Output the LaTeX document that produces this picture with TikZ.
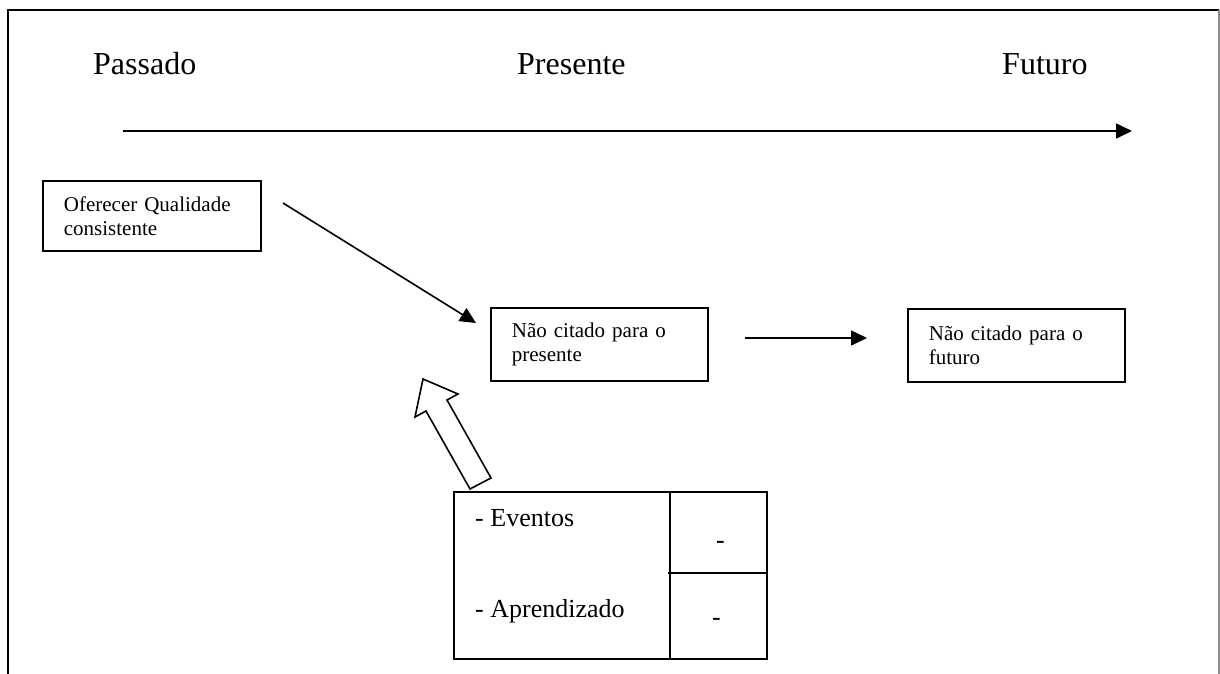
\documentclass[tikz,border=0pt]{standalone}
\usepackage{fontspec}
\setmainfont{Liberation Serif}
\usetikzlibrary{arrows.meta}
\tikzset{
  bigtxt/.style={font=\fontsize{32}{38}\selectfont, inner sep=0pt, anchor=base west},
  tabtxt/.style={font=\fontsize{26}{31}\selectfont, inner sep=0pt, anchor=base west},
  boxnode/.style={draw, line width=1.8pt, anchor=north west, align=left,
    font=\fontsize{21}{24}\selectfont, inner xsep=21pt, inner ysep=0pt},
  conn/.style={line width=1.6pt, -{Triangle[length=16pt,width=15pt]}},
  frame/.style={line width=2pt},
}
\begin{document}
\begin{tikzpicture}[x=1pt,y=-1pt]
\useasboundingbox (0,0) rectangle (1220,674);
% frame
\draw[frame] (8,674) -- (8,10) -- (1219,10);
\draw[line width=1.6pt, black!45] (1219,10) -- (1219,674);
% time labels
\node[bigtxt] (passado) at (93,75) {Passado};
\node[bigtxt] (presente) at (517,75) {Presente};
\node[bigtxt] (futuro) at (1002,75) {Futuro};
% timeline
\coordinate (tlA) at (123,131);
\coordinate (tlB) at (1132,131);
\draw[conn] (tlA) -- (tlB);
% boxes
\node[boxnode, text width=176pt, minimum height=70pt] (b1) at (42,180)
  {Oferecer Qualidade\\consistente};
\node[boxnode, text width=175pt, minimum height=73pt] (b2) at (490,307)
  {Não citado para o\\presente};
\node[boxnode, text width=175pt, minimum height=73pt] (b3) at (907,308)
  {Não citado para o\\futuro};
% arrows
\coordinate (d1) at (283,203);
\coordinate (d2) at (476,323);
\draw[conn] (d1) -- (d2);
\coordinate (h1) at (745,338);
\coordinate (h2) at (867,338);
\draw[conn] (h1) -- (h2);
% hollow block arrow
\draw[line width=1.6pt, line join=miter, fill=white]
  (423,379) -- (458,394) -- (447,400) -- (491,478) -- (470,489) -- (426,411) -- (415,417) -- cycle;
% table
\draw[line width=1.8pt] (454,492) rectangle (767,659);
\draw[line width=1.8pt] (670,492) -- (670,659);
\draw[line width=1.8pt] (668,573) -- (767,573);
\node[tabtxt] (ev) at (475,526) {- Eventos};
\node[tabtxt] (ap) at (475,617) {- Aprendizado};
\node[tabtxt] (d1t) at (716,548) {-};
\node[tabtxt] (d2t) at (712,625) {-};
\end{tikzpicture}
\end{document}
